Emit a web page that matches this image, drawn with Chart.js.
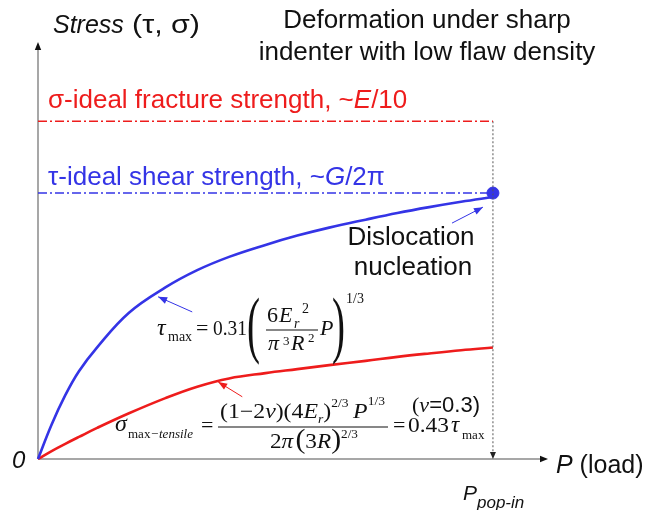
<!DOCTYPE html>
<html>
<head>
<meta charset="utf-8">
<script src="https://cdn.jsdelivr.net/npm/chart.js@4"></script>
<style>
  html, body { margin: 0; padding: 0; background: #fff; }
  #wrap { width: 649px; height: 510px; position: relative; }
</style>
</head>
<body>
<div id="wrap"><canvas id="stressChart"></canvas></div>
<script>
// load values along the x axis (P / P_pop-in)
const loadP = [0, 0.03, 0.06, 0.09, 0.13, 0.2, 0.28, 0.35, 0.42, 0.5, 0.57, 0.64, 0.72, 0.79, 0.86, 0.93, 1.0];
// stress curves (scaled to ideal shear strength = 1)
const tauMax = [0, 0.13, 0.24, 0.33, 0.42, 0.55, 0.645, 0.71, 0.76, 0.805, 0.84, 0.87, 0.9, 0.925, 0.947, 0.967, 0.985];
const sigmaTensile = [0, 0.03, 0.057, 0.083, 0.117, 0.172, 0.229, 0.272, 0.303, 0.323, 0.338, 0.353, 0.369, 0.384, 0.397, 0.409, 0.419];
// ideal strengths and pop-in load
const tauIdeal = 1.0;
const sigmaIdeal = 1.27;
const popIn = 1.0;

const BLUE = "#3434e6";
const RED = "#ee1c1c";
const SANS = '"Liberation Sans", Arial, sans-serif';
const SERIF = '"Liberation Serif", "Times New Roman", serif';

function font(size, italic, family) {
  return (italic ? "italic " : "") + size + "px " + (family || SANS);
}

// draw a run of text pieces, left to right
function seq(ctx, x, y, parts) {
  parts.forEach((p) => {
    ctx.font = p.f;
    x += p.dx || 0;
    ctx.fillText(p.t, x, y + (p.dy || 0));
    x += ctx.measureText(p.t).width;
  });
  return x;
}

// same as seq, but stretched to a target width
function fitSeq(ctx, x, y, parts, width) {
  let total = 0;
  parts.forEach((p) => {
    ctx.font = p.f;
    total += (p.dx || 0) + ctx.measureText(p.t).width;
  });
  const s = width / total;
  parts.forEach((p) => {
    ctx.font = p.f;
    x += (p.dx || 0) * s;
    ctx.save();
    ctx.translate(x, y + (p.dy || 0));
    ctx.scale(s, 1);
    ctx.fillText(p.t, 0, 0);
    ctx.restore();
    x += ctx.measureText(p.t).width * s;
  });
}

// single piece, optionally squeezed to width w
function put(ctx, t, x, y, f, w) {
  ctx.font = f;
  const s = w ? w / ctx.measureText(t).width : 1;
  ctx.save();
  ctx.translate(x, y);
  ctx.scale(s, 1);
  ctx.fillText(t, 0, 0);
  ctx.restore();
}

function arrowHead(ctx, x1, y1, x2, y2, len, half) {
  const a = Math.atan2(y2 - y1, x2 - x1);
  ctx.beginPath();
  ctx.moveTo(x2, y2);
  ctx.lineTo(x2 - len * Math.cos(a) + half * Math.sin(a), y2 - len * Math.sin(a) - half * Math.cos(a));
  ctx.lineTo(x2 - len * Math.cos(a) - half * Math.sin(a), y2 - len * Math.sin(a) + half * Math.cos(a));
  ctx.closePath();
  ctx.fill();
}

// small pointer arrows, in data coords [from, to]
const pointers = [
  { from: [0.339, 0.553], to: [0.264, 0.61], color: BLUE },
  { from: [0.91, 0.887], to: [0.978, 0.947], color: BLUE },
  { from: [0.449, 0.234], to: [0.396, 0.29], color: RED },
];

const axesPlugin = {
  id: "axesPlugin",
  beforeDatasetsDraw(chart) {
    const { ctx, chartArea: a } = chart;
    ctx.save();
    ctx.strokeStyle = "#8a8a8a";
    ctx.lineWidth = 1.5;
    ctx.beginPath();
    ctx.moveTo(a.left, a.bottom);
    ctx.lineTo(a.left, a.top + 4);
    ctx.moveTo(a.left, a.bottom);
    ctx.lineTo(a.right - 4, a.bottom);
    ctx.stroke();
    ctx.fillStyle = "#111";
    arrowHead(ctx, a.left, a.bottom, a.left, a.top, 8, 3.2);
    arrowHead(ctx, a.left, a.bottom, a.right, a.bottom, 8, 3.2);
    ctx.restore();
  },
  afterDatasetsDraw(chart) {
    const { ctx } = chart;
    const xs = chart.scales.x, ys = chart.scales.y;
    ctx.save();
    // arrow tip of the pop-in line
    ctx.fillStyle = "#222";
    const px = xs.getPixelForValue(popIn), py = ys.getPixelForValue(0);
    arrowHead(ctx, px, py - 10, px, py, 7, 3);

    pointers.forEach((p) => {
      const x1 = xs.getPixelForValue(p.from[0]), y1 = ys.getPixelForValue(p.from[1]);
      const x2 = xs.getPixelForValue(p.to[0]), y2 = ys.getPixelForValue(p.to[1]);
      ctx.strokeStyle = p.color;
      ctx.fillStyle = p.color;
      ctx.lineWidth = 1;
      ctx.beginPath();
      ctx.moveTo(x1, y1);
      ctx.lineTo(x2, y2);
      ctx.stroke();
      arrowHead(ctx, x1, y1, x2, y2, 9, 3.5);
    });

    // texts
    ctx.textBaseline = "alphabetic";
    ctx.fillStyle = "#111";
    seq(ctx, 53, 33, [{ t: "Stress", f: font(25, true) }]);
    fitSeq(ctx, 132, 33, [{ t: "(\u03c4, \u03c3)", f: font(26) }], 68);
    ctx.font = font(26);
    ctx.textAlign = "center";
    ctx.fillText("Deformation under sharp", 427, 28);
    ctx.fillText("indenter with low flaw density", 427, 60);
    ctx.fillText("Dislocation", 411, 245);
    ctx.fillText("nucleation", 413, 275);
    ctx.textAlign = "left";

    ctx.fillStyle = RED;
    seq(ctx, 48, 108, [
      { t: "\u03c3-ideal fracture strength, ~", f: font(26) },
      { t: "E", f: font(26, true) },
      { t: "/10", f: font(26) },
    ]);
    ctx.fillStyle = BLUE;
    seq(ctx, 48, 185, [
      { t: "\u03c4-ideal shear strength, ~", f: font(26) },
      { t: "G", f: font(26, true) },
      { t: "/2\u03c0", f: font(26) },
    ]);

    ctx.fillStyle = "#111";
    ctx.font = font(24, true);
    ctx.fillText("0", 12, 468);
    seq(ctx, 556, 473, [
      { t: "P", f: font(25, true) },
      { t: " (load)", f: font(25) },
    ]);
    seq(ctx, 463, 500, [{ t: "P", f: font(21, true) }]);
    seq(ctx, 477, 508, [{ t: "pop-in", f: font(17, true) }]);

    // tau_max formula
    put(ctx, "\u03c4", 157, 335, font(24, true, SERIF));
    put(ctx, "max", 168, 341, font(14, false, SERIF));
    put(ctx, "=", 196, 335, font(22, false, SERIF));
    put(ctx, "0.31", 213, 335, font(22, false, SERIF), 34);
    put(ctx, "(", 247, 349, font(74, false, SERIF), 13);
    put(ctx, ")", 332, 349, font(74, false, SERIF), 13);
    put(ctx, "1/3", 346, 303, font(14, false, SERIF));
    put(ctx, "6", 267, 322, font(22, false, SERIF));
    put(ctx, "E", 279, 322, font(22, true, SERIF));
    put(ctx, "r", 294, 328, font(14, true, SERIF));
    put(ctx, "2", 302, 313, font(14, false, SERIF));
    put(ctx, "\u03c0", 268, 350, font(22, true, SERIF));
    put(ctx, "3", 283, 345, font(13, false, SERIF));
    put(ctx, "R", 291, 350, font(22, true, SERIF));
    put(ctx, "2", 308, 342, font(13, false, SERIF));
    put(ctx, "P", 320, 335, font(22, true, SERIF));
    ctx.strokeStyle = "#111";
    ctx.lineWidth = 1.2;
    ctx.beginPath();
    ctx.moveTo(266, 330);
    ctx.lineTo(318, 330);
    ctx.stroke();

    // sigma_max-tensile formula
    put(ctx, "\u03c3", 115, 431, font(24, true, SERIF));
    put(ctx, "max", 128, 438, font(13, false, SERIF));
    put(ctx, "\u2212", 151, 438, font(13, false, SERIF));
    put(ctx, "tensile", 159, 438, font(13, true, SERIF), 34);
    put(ctx, "=", 201, 432, font(22, false, SERIF));
    ctx.beginPath();
    ctx.moveTo(218, 427);
    ctx.lineTo(388, 427);
    ctx.stroke();
    fitSeq(ctx, 220, 418, [
      { t: "(1\u22122", f: font(21, false, SERIF) },
      { t: "\u03bd", f: font(21, true, SERIF) },
      { t: ")(4", f: font(21, false, SERIF) },
      { t: "E", f: font(21, true, SERIF) },
      { t: "r", f: font(12, true, SERIF), dy: 5 },
      { t: ")", f: font(21, false, SERIF) },
      { t: "2/3", f: font(12, false, SERIF), dy: -11 },
      { t: "P", f: font(21, true, SERIF), dx: 4 },
      { t: "1/3", f: font(12, false, SERIF), dy: -13 },
    ], 165);
    fitSeq(ctx, 270, 448, [
      { t: "2", f: font(21, false, SERIF) },
      { t: "\u03c0", f: font(21, true, SERIF) },
      { t: "(", f: font(27, false, SERIF), dx: 2 },
      { t: "3", f: font(21, false, SERIF) },
      { t: "R", f: font(21, true, SERIF) },
      { t: ")", f: font(27, false, SERIF) },
      { t: "2/3", f: font(12, false, SERIF), dy: -10 },
    ], 88);
    put(ctx, "=", 393, 432, font(22, false, SERIF));
    put(ctx, "0.43", 408, 432, font(22, false, SERIF), 41);
    put(ctx, "\u03c4", 451, 432, font(23, true, SERIF));
    put(ctx, "max", 462, 439, font(13, false, SERIF));
    fitSeq(ctx, 412, 412, [
      { t: "(", f: font(22, false, SERIF) },
      { t: "\u03bd", f: font(22, true, SERIF) },
      { t: "=0.3)", f: font(22) },
    ], 68);
    ctx.restore();
  },
};

const line = (xs, ys) => xs.map((x, i) => ({ x: x, y: ys[i] }));

new Chart(document.getElementById("stressChart"), {
  type: "line",
  data: {
    datasets: [
      {
        label: "sigma ideal",
        data: [{ x: 0, y: sigmaIdeal }, { x: popIn, y: sigmaIdeal }],
        borderColor: RED,
        borderWidth: 1.6,
        borderDash: [9, 3, 2, 3],
        pointRadius: 0,
      },
      {
        label: "tau ideal",
        data: [{ x: 0, y: tauIdeal }, { x: popIn, y: tauIdeal }],
        borderColor: BLUE,
        borderWidth: 1.6,
        borderDash: [9, 3, 2, 3],
        pointRadius: 0,
      },
      {
        label: "pop-in",
        data: [{ x: popIn, y: sigmaIdeal }, { x: popIn, y: 0.02 }],
        borderColor: "#555",
        borderWidth: 1,
        borderDash: [2, 2],
        pointRadius: 0,
      },
      {
        label: "tau max",
        data: line(loadP, tauMax),
        borderColor: BLUE,
        borderWidth: 2.6,
        pointRadius: 0,
        tension: 0.4,
      },
      {
        label: "sigma tensile",
        data: line(loadP, sigmaTensile),
        borderColor: RED,
        borderWidth: 2.6,
        pointRadius: 0,
        tension: 0.4,
      },
      {
        label: "nucleation",
        data: [{ x: popIn, y: tauIdeal }],
        showLine: false,
        pointRadius: 6,
        pointBackgroundColor: BLUE,
        pointBorderColor: BLUE,
      },
    ],
  },
  options: {
    responsive: true,
    maintainAspectRatio: false,
    animation: false,
    clip: false,
    layout: { padding: { left: 38, right: 101, top: 42, bottom: 51 } },
    plugins: { legend: { display: false }, tooltip: { enabled: false } },
    scales: {
      x: { type: "linear", min: 0, max: 1.121, display: false },
      y: { min: 0, max: 1.568, display: false },
    },
  },
  plugins: [axesPlugin],
});
</script>
</body>
</html>
